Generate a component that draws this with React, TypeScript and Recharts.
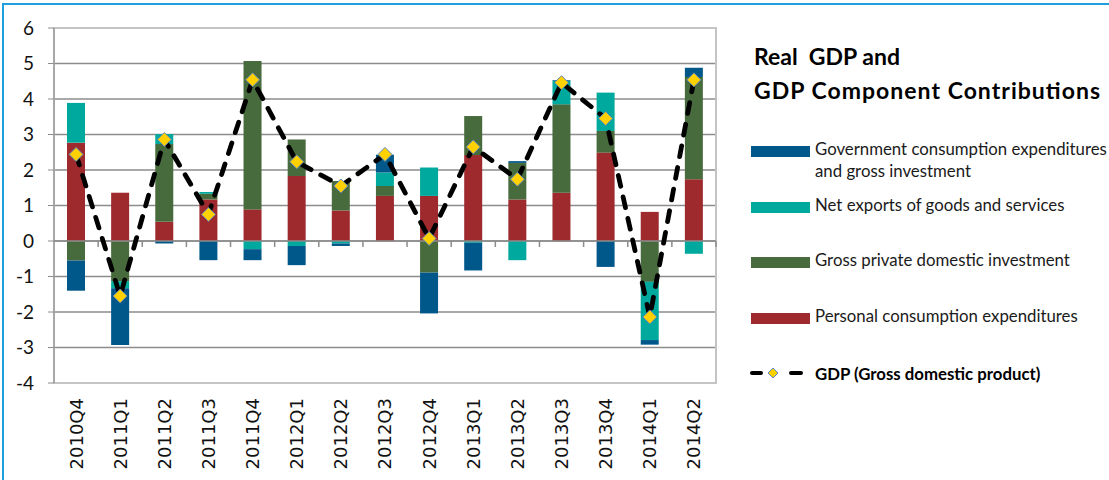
import React from "react"
import {
  ComposedChart,
  Bar,
  Line,
  XAxis,
  YAxis,
  CartesianGrid,
  ReferenceLine,
  ReferenceArea,
  Legend,
} from "recharts"

const quarters = [
  "2010Q4", "2011Q1", "2011Q2", "2011Q3", "2011Q4", "2012Q1", "2012Q2", "2012Q3",
  "2012Q4", "2013Q1", "2013Q2", "2013Q3", "2013Q4", "2014Q1", "2014Q2",
]
const personal = [2.77, 1.36, 0.54, 1.17, 0.89, 1.83, 0.86, 1.27, 1.27, 2.42, 1.17, 1.36, 2.49, 0.82, 1.74]
const investment = [-0.55, -1.13, 2.19, 0.16, 4.18, 1.03, 0.83, 0.28, -0.89, 1.1, 1.03, 2.49, 0.61, -1.15, 2.88]
const netExports = [1.12, -0.2, 0.28, 0.05, -0.23, -0.14, -0.07, 0.38, 0.8, -0.05, -0.54, 0.66, 1.08, -1.64, -0.36]
const government = [-0.85, -1.6, -0.07, -0.54, -0.31, -0.54, -0.07, 0.5, -1.15, -0.78, 0.05, 0.02, -0.73, -0.13, 0.26]
const gdp = [2.44, -1.55, 2.86, 0.75, 4.54, 2.23, 1.55, 2.44, 0.07, 2.65, 1.74, 4.46, 3.45, -2.14, 4.54]
const yTicks = [-4, -3, -2, -1, 0, 1, 2, 3, 4, 5, 6]

const C_GOV = "#00578A"
const C_NET = "#00A99D"
const C_INV = "#476B3C"
const C_PCE = "#9E2A2E"

const data = quarters.map((q, i) => ({
  q,
  personal: personal[i],
  investment: investment[i],
  netExports: netExports[i],
  government: government[i],
  gdp: gdp[i],
}))

const Diamond = ({ cx, cy, size = 7 }: any) =>
  cx == null ? null : (
    <polygon
      points={`${cx},${cy - size} ${cx + size},${cy} ${cx},${cy + size} ${cx - size},${cy}`}
      fill="#FFD100"
      stroke="#5B86C0"
      strokeWidth={1}
    />
  )

const QuarterTick = ({ x, y, payload }: any) => (
  <text
    x={x}
    y={y}
    transform={`rotate(-90, ${x}, ${y})`}
    textAnchor="end"
    dy="0.36em"
    fontFamily="DejaVu Sans"
    fontSize={18}
    fill="#111"
  >
    {payload.value}
  </text>
)

// zero axis line with Excel-style tick marks between categories
const ZeroAxis = (props: any) => {
  const { x1, x2, y1 } = props
  const step = (x2 - x1) / quarters.length
  return (
    <g>
      <line x1={x1} x2={x2} y1={y1} y2={y1} stroke="#8c8c8c" strokeWidth={1.5} />
      {quarters.map((_, i) => (
        <line
          key={i}
          x1={x1 + step * (i + 1)}
          x2={x1 + step * (i + 1)}
          y1={y1}
          y2={y1 + 6}
          stroke="#8c8c8c"
          strokeWidth={1.5}
        />
      ))}
    </g>
  )
}

const legendItems = [
  { lines: ["Government consumption expenditures", "and gross investment"], color: C_GOV, y: 146 },
  { lines: ["Net exports of goods and services"], color: C_NET, y: 202 },
  { lines: ["Gross private domestic investment"], color: C_INV, y: 257 },
  { lines: ["Personal consumption expenditures"], color: C_PCE, y: 313 },
]

const LegendBox = () => (
  <svg width={369} height={400} style={{ display: "block" }}>
    <g fontFamily="Lato" fontWeight="bold" fontSize={23} fill="#000">
      <text x={14} y={65} xmlSpace="preserve" style={{ whiteSpace: "pre" }}>Real  GDP and</text>
      <text x={14} y={99} textLength={346} lengthAdjust="spacing">GDP Component Contributions</text>
    </g>
    {legendItems.map((it) => (
      <g key={it.lines[0]}>
        <rect x={11} y={it.y} width={59} height={11} fill={it.color} />
        {it.lines.map((l, j) => (
          <text key={l} x={75} y={it.y + 9 + j * 22} fontFamily="Lato" fontSize={16.8} fill="#1a1a1a">
            {l}
          </text>
        ))}
      </g>
    ))}
    <g>
      <line x1={12} x2={21} y1={373} y2={373} stroke="#000" strokeWidth={4} strokeLinecap="round" />
      <Diamond cx={33} cy={373} size={5} />
      <line x1={51} x2={61} y1={373} y2={373} stroke="#000" strokeWidth={4} strokeLinecap="round" />
      <text x={75} y={380} fontFamily="Lato" fontWeight="bold" fontSize={16.8} fill="#000">
        GDP (Gross domestic product)
      </text>
    </g>
  </svg>
)

export default function App() {
  return (
    <div
      style={{
        position: "absolute",
        left: 0,
        top: 0,
        width: 1109,
        height: 480,
        overflow: "hidden",
        background: "#fff",
      }}
    >
      <div
        style={{
          position: "absolute",
          left: 2,
          top: 3,
          width: 1200,
          height: 600,
          borderLeft: "2px solid #1EA0DC",
          borderTop: "2px solid #1EA0DC",
        }}
      />
      <ComposedChart
        width={1109}
        height={480}
        data={data}
        stackOffset="sign"
        barSize={18}
        margin={{ top: 28, right: 393, bottom: 0, left: 0 }}
      >
        <CartesianGrid vertical={false} stroke="#8c8c8c" strokeWidth={1.5} />
        <ReferenceArea y1={-4} y2={6} fill="none" stroke="#c4c4c4" strokeWidth={2} />
        <XAxis
          dataKey="q"
          height={97}
          interval={0}
          axisLine={false}
          tickLine={false}
          tickSize={0}
          tickMargin={15}
          tick={<QuarterTick />}
        />
        <YAxis
          width={54}
          domain={[-4, 6]}
          ticks={yTicks}
          interval={0}
          stroke="#8c8c8c"
          tickSize={6}
          tickMargin={14}
          tick={{ fontFamily: "Lato", fontSize: 19, fill: "#111" }}
        />
        <Bar dataKey="personal" stackId="a" fill={C_PCE} isAnimationActive={false} />
        <Bar dataKey="investment" stackId="a" fill={C_INV} isAnimationActive={false} />
        <Bar dataKey="netExports" stackId="a" fill={C_NET} isAnimationActive={false} />
        <Bar dataKey="government" stackId="a" fill={C_GOV} isAnimationActive={false} />
        <ReferenceLine y={0} shape={<ZeroAxis />} />
        <Line
          dataKey="gdp"
          stroke="#000"
          strokeWidth={4.8}
          strokeDasharray="11 11"
          strokeLinecap="round"
          dot={<Diamond />}
          activeDot={false}
          isAnimationActive={false}
        />
        <Legend
          layout="vertical"
          align="center"
          verticalAlign="middle"
          content={<LegendBox />}
          wrapperStyle={{ left: 740, top: 0, width: 369, height: 400 }}
        />
      </ComposedChart>
    </div>
  )
}
